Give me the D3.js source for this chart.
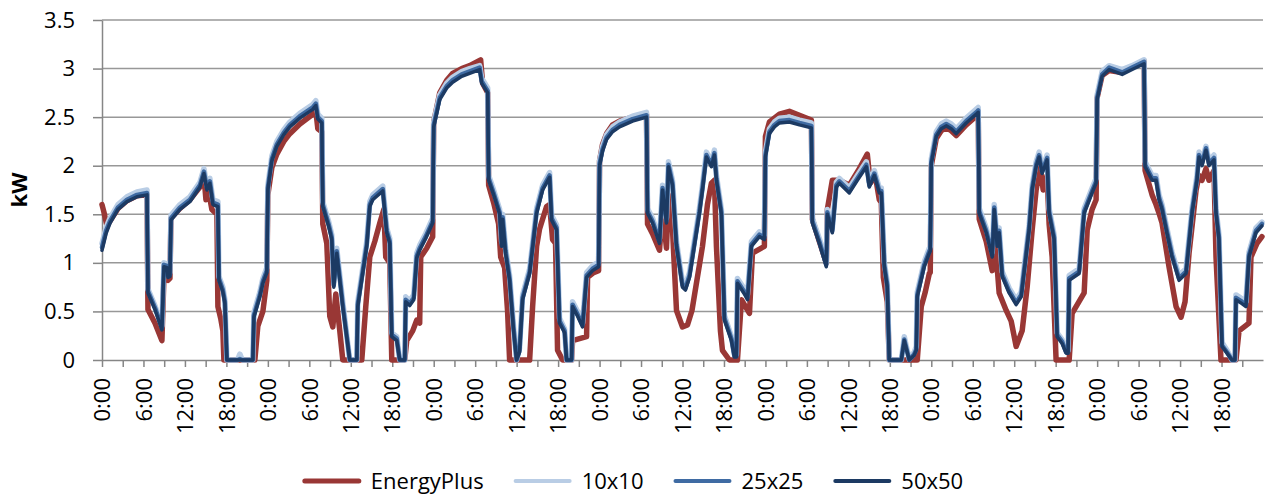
<!DOCTYPE html>
<html>
<head>
<meta charset="utf-8">
<script src="https://cdn.jsdelivr.net/npm/d3@7"></script>
<style>
  body { margin: 0; background: #fff; }
  text { font-family: "Open Sans", sans-serif; fill: #000; }
</style>
</head>
<body>
<div id="chart"></div>
<script>
// hours since start of week, kW
var simHours = [
  0, 0.58, 1.16, 2.31, 3.61, 5.06, 6.51, 6.65, 7.66, 8.67, 8.96, 9.40, 9.54, 9.83, 9.98, 11.28, 12.72, 14.17, 14.75, 15.18, 15.61, 16.05, 16.77, 16.92, 17.49, 17.78, 18.07, 19.6, 19.95, 20.3, 21.83, 21.98, 22.84, 23.28, 23.85,
  24.00, 24.58, 25.30, 26.31, 27.18, 28.63, 30.50, 30.94, 31.23, 31.81, 31.95, 32.24, 32.82, 33.25, 33.54, 33.97, 34.84, 35.85, 36.87, 37.01, 38.31, 38.75, 39.18, 40.63, 41.20, 41.64, 41.93, 42.65, 43.08, 43.81, 43.95, 44.53, 45.11, 45.54, 45.97, 46.84, 47.85,
  48.00, 48.87, 49.88, 50.74, 52.05, 53.20, 54.65, 54.94, 55.81, 55.95, 56.67, 57.54, 57.83, 57.97, 58.40, 58.98, 59.56, 59.99, 60.42, 60.86, 61.88, 62.89, 63.76, 64.77, 65.06, 65.78, 66.21, 66.94, 67.23, 67.95, 68.09, 68.82, 69.54, 70.12, 70.99, 71.86,
  72.00, 72.43, 73.01, 73.88, 74.89, 76.77, 78.79, 78.94, 79.66, 80.67, 81.11, 81.68, 81.97, 82.55, 83.13, 84.00, 84.43, 85.01, 86.45, 86.89, 87.46, 88.18, 88.62, 88.91, 89.63, 90.07, 91.08, 91.51, 91.80, 91.95, 92.96, 93.40, 93.97, 95.13, 95.85,
  96.00, 96.58, 97.30, 98.03, 99.47, 100.92, 102.65, 102.79, 103.80, 104.81, 104.96, 105.68, 106.26, 106.70, 108.14, 109.30, 110.60, 111.03, 111.76, 112.48, 112.77, 113.20, 113.63, 113.92, 115.66, 116.09, 116.81, 117.53, 117.83, 117.97, 118.98, 119.71, 119.85,
  120.00, 120.72, 121.44, 122.16, 122.89, 123.61, 125.06, 126.65, 126.79, 126.94, 127.95, 128.82, 129.11, 129.54, 129.82, 130.26, 131.27, 132.28, 133.01, 134.16, 134.60, 135.17, 135.61, 136.04, 136.76, 137.05, 137.78, 138.21, 138.93, 139.51, 139.80, 139.95, 141.39, 142.12, 143.27, 143.85,
  144.00, 144.72, 145.74, 147.62, 149.06, 150.79, 150.94, 151.95, 152.52, 152.96, 153.39, 154.11, 154.84, 155.85, 156.86, 157.73, 158.45, 158.74, 159.17, 159.75, 160.18, 160.91, 161.20, 161.63, 162.07, 162.79, 163.51, 163.94, 164.09, 164.95, 165.53, 165.97, 166.98, 167.85
];
var grid10 = [
  1.20, 1.36, 1.46, 1.60, 1.68, 1.73, 1.75, 0.73, 0.56, 0.35, 1.00, 0.99, 0.89, 0.90, 1.49, 1.60, 1.68, 1.83, 1.97, 1.80, 1.87, 1.65, 1.63, 0.86, 0.75, 0.62, 0, 0, 0.06, 0, 0, 0.49, 0.70, 0.84, 0.95,
  1.80, 2.10, 2.25, 2.37, 2.45, 2.54, 2.63, 2.67, 2.53, 2.49, 1.63, 1.56, 1.42, 1.29, 0.80, 1.15, 0.60, 0, 0, 0.60, 1.22, 1.63, 1.70, 1.79, 1.36, 1.25, 0.28, 0.24, 0, 0, 0.65, 0.61, 0.67, 1.10, 1.18, 1.30, 1.46,
  2.45, 2.73, 2.85, 2.91, 2.97, 3.00, 3.03, 2.90, 2.80, 1.90, 1.75, 1.55, 1.22, 1.50, 1.15, 0.87, 0.34, 0, 0.12, 0.67, 0.94, 1.56, 1.80, 1.93, 1.49, 1.39, 0.43, 0.32, 0, 0, 0.60, 0.50, 0.38, 0.90, 0.97, 1.01,
  2.05, 2.20, 2.32, 2.40, 2.45, 2.51, 2.55, 1.56, 1.46, 1.25, 1.80, 1.46, 2.04, 1.85, 1.22, 0.80, 0.77, 0.90, 1.56, 1.80, 2.14, 2.04, 2.16, 1.90, 1.55, 0.46, 0.24, 0.06, 0.06, 0.84, 0.73, 0.67, 1.22, 1.32, 1.29,
  2.14, 2.38, 2.45, 2.49, 2.50, 2.47, 2.44, 1.46, 1.25, 1.01, 1.55, 1.36, 1.83, 1.87, 1.77, 1.90, 2.04, 1.83, 1.95, 1.77, 1.77, 1.01, 0.80, 0, 0, 0.24, 0.01, 0.08, 0.14, 0.70, 1.01, 1.15, 1.17,
  2.07, 2.35, 2.43, 2.46, 2.43, 2.38, 2.49, 2.59, 2.60, 1.56, 1.36, 1.11, 1.60, 1.22, 1.36, 0.91, 0.74, 0.62, 0.70, 1.39, 1.80, 2.04, 2.14, 1.97, 2.11, 1.56, 1.29, 0.28, 0.21, 0.10, 0.10, 0.87, 0.94, 1.56, 1.77, 1.87,
  2.73, 2.97, 3.03, 2.99, 3.03, 3.09, 2.04, 1.90, 1.90, 1.70, 1.60, 1.35, 1.11, 0.87, 0.94, 1.56, 1.90, 2.14, 2.05, 2.20, 2.05, 2.11, 1.56, 1.29, 0.18, 0.10, 0, 0, 0.67, 0.63, 0.60, 1.11, 1.36, 1.42
];
var grid25 = [
  1.16, 1.33, 1.43, 1.57, 1.65, 1.70, 1.72, 0.71, 0.54, 0.33, 0.98, 0.97, 0.87, 0.88, 1.46, 1.57, 1.65, 1.80, 1.94, 1.77, 1.84, 1.62, 1.60, 0.84, 0.72, 0.60, 0, 0, 0.01, 0, 0, 0.46, 0.67, 0.81, 0.92,
  1.77, 2.07, 2.22, 2.34, 2.42, 2.51, 2.60, 2.64, 2.50, 2.46, 1.60, 1.53, 1.39, 1.26, 0.77, 1.12, 0.57, 0, 0, 0.57, 1.19, 1.60, 1.67, 1.76, 1.33, 1.22, 0.26, 0.22, 0, 0, 0.62, 0.58, 0.64, 1.07, 1.15, 1.27, 1.43,
  2.42, 2.70, 2.82, 2.88, 2.94, 2.97, 3.01, 2.87, 2.77, 1.87, 1.72, 1.52, 1.19, 1.47, 1.12, 0.84, 0.32, 0, 0.10, 0.64, 0.91, 1.53, 1.77, 1.90, 1.46, 1.36, 0.40, 0.30, 0, 0, 0.57, 0.47, 0.36, 0.87, 0.94, 0.98,
  2.02, 2.17, 2.29, 2.37, 2.42, 2.48, 2.52, 1.53, 1.43, 1.22, 1.77, 1.43, 2.01, 1.82, 1.19, 0.77, 0.74, 0.87, 1.53, 1.77, 2.11, 2.01, 2.13, 1.87, 1.52, 0.43, 0.22, 0.04, 0.04, 0.81, 0.70, 0.64, 1.19, 1.29, 1.26,
  2.11, 2.35, 2.42, 2.46, 2.47, 2.44, 2.41, 1.43, 1.22, 0.98, 1.52, 1.33, 1.80, 1.84, 1.74, 1.87, 2.01, 1.80, 1.92, 1.74, 1.74, 0.98, 0.77, 0, 0, 0.21, 0, 0.06, 0.11, 0.67, 0.98, 1.12, 1.14,
  2.04, 2.32, 2.40, 2.43, 2.40, 2.35, 2.46, 2.56, 2.57, 1.53, 1.33, 1.08, 1.57, 1.19, 1.33, 0.88, 0.71, 0.59, 0.67, 1.36, 1.77, 2.01, 2.11, 1.94, 2.08, 1.53, 1.26, 0.26, 0.19, 0.08, 0.08, 0.84, 0.91, 1.53, 1.74, 1.84,
  2.70, 2.94, 3.01, 2.96, 3.01, 3.07, 2.01, 1.87, 1.87, 1.67, 1.57, 1.32, 1.08, 0.84, 0.91, 1.53, 1.87, 2.11, 2.02, 2.18, 2.02, 2.08, 1.53, 1.26, 0.15, 0.08, 0, 0, 0.64, 0.60, 0.57, 1.08, 1.33, 1.40
];
var grid50 = [
  1.13, 1.30, 1.41, 1.55, 1.63, 1.68, 1.70, 0.69, 0.52, 0.31, 0.96, 0.95, 0.85, 0.86, 1.44, 1.55, 1.63, 1.78, 1.92, 1.75, 1.82, 1.60, 1.58, 0.82, 0.70, 0.58, 0, 0, 0, 0, 0, 0.44, 0.65, 0.79, 0.90,
  1.75, 2.05, 2.20, 2.32, 2.40, 2.49, 2.58, 2.62, 2.48, 2.44, 1.58, 1.51, 1.37, 1.24, 0.75, 1.10, 0.55, 0, 0, 0.55, 1.17, 1.58, 1.65, 1.74, 1.31, 1.20, 0.24, 0.20, 0, 0, 0.60, 0.56, 0.62, 1.05, 1.13, 1.25, 1.41,
  2.40, 2.68, 2.80, 2.86, 2.92, 2.95, 2.99, 2.85, 2.75, 1.85, 1.70, 1.50, 1.17, 1.45, 1.10, 0.82, 0.30, 0, 0.08, 0.62, 0.89, 1.51, 1.75, 1.88, 1.44, 1.34, 0.38, 0.28, 0, 0, 0.55, 0.45, 0.34, 0.85, 0.92, 0.96,
  2.00, 2.15, 2.27, 2.35, 2.40, 2.46, 2.50, 1.51, 1.41, 1.20, 1.75, 1.41, 1.99, 1.80, 1.17, 0.75, 0.72, 0.85, 1.51, 1.75, 2.09, 1.99, 2.11, 1.85, 1.50, 0.41, 0.20, 0.03, 0.03, 0.79, 0.68, 0.62, 1.17, 1.27, 1.24,
  2.09, 2.33, 2.40, 2.44, 2.45, 2.42, 2.39, 1.41, 1.20, 0.96, 1.50, 1.31, 1.78, 1.82, 1.72, 1.85, 1.99, 1.78, 1.90, 1.72, 1.72, 0.96, 0.75, 0, 0, 0.20, 0, 0.05, 0.10, 0.65, 0.96, 1.10, 1.12,
  2.02, 2.30, 2.38, 2.41, 2.38, 2.33, 2.44, 2.54, 2.55, 1.51, 1.31, 1.06, 1.55, 1.17, 1.31, 0.86, 0.69, 0.57, 0.65, 1.34, 1.75, 1.99, 2.09, 1.92, 2.06, 1.51, 1.24, 0.24, 0.17, 0.07, 0.07, 0.82, 0.89, 1.51, 1.72, 1.82,
  2.68, 2.92, 2.99, 2.94, 2.99, 3.05, 1.99, 1.85, 1.85, 1.65, 1.55, 1.30, 1.06, 0.82, 0.89, 1.51, 1.85, 2.09, 2.00, 2.16, 2.00, 2.06, 1.51, 1.24, 0.14, 0.07, 0, 0, 0.62, 0.58, 0.55, 1.06, 1.31, 1.38
];

var epHours = [
  0, 0.29, 0.72, 1.16, 2.31, 3.61, 5.06, 6.51, 6.65, 7.66, 8.67, 8.96, 9.54, 9.83, 9.98, 11.28, 12.72, 14.17, 14.75, 15.04, 15.47, 15.90, 16.63, 16.77, 17.20, 17.49, 17.64, 22.12, 22.55, 23.28, 23.85,
  24.00, 24.58, 25.30, 26.31, 27.18, 28.63, 30.50, 30.94, 31.23, 31.81, 31.95, 32.53, 32.96, 33.40, 33.83, 34.41, 34.84, 37.59, 38.17, 38.75, 39.47, 40.20, 40.78, 41.06, 41.64, 41.93, 43.81, 44.10, 44.96, 45.54, 45.97, 46.12, 46.98, 47.85,
  48.00, 48.87, 49.88, 50.74, 52.05, 53.20, 54.79, 55.08, 55.81, 55.95, 56.67, 57.39, 57.69, 58.26, 58.69, 58.98, 61.88, 62.31, 62.89, 63.32, 64.33, 64.77, 65.20, 65.63, 65.92, 66.65, 67.95, 68.09, 69.10, 70.12, 70.26, 71.13, 71.86,
  72.00, 72.43, 73.01, 73.88, 74.89, 76.77, 78.79, 78.94, 79.66, 80.67, 81.11, 81.68, 81.97, 82.55, 83.13, 84.00, 84.72, 85.37, 86.89, 87.61, 88.18, 88.62, 88.91, 89.49, 89.78, 90.79, 91.95, 92.53, 93.69, 94.12, 95.85,
  96.00, 96.58, 98.03, 99.47, 100.92, 102.65, 102.79, 103.80, 104.81, 104.96, 105.68, 106.70, 108.14, 109.59, 110.74, 111.17, 111.90, 112.48, 112.77, 113.06, 113.63, 113.92, 117.97, 118.55, 119.13, 119.71, 119.85,
  120.00, 120.72, 121.44, 122.16, 122.89, 123.61, 125.06, 126.65, 126.79, 126.94, 127.95, 128.82, 129.11, 129.54, 129.82, 130.84, 131.56, 132.28, 133.15, 133.87, 134.60, 135.17, 135.75, 136.19, 136.76, 137.05, 137.49, 138.06, 139.95, 140.38, 142.12, 142.56, 143.27, 143.85,
  144.00, 144.72, 145.74, 147.62, 149.06, 150.79, 150.94, 151.95, 152.52, 152.96, 153.39, 154.40, 155.42, 156.14, 156.72, 157.30, 158.32, 158.74, 159.17, 159.75, 160.18, 160.91, 161.20, 161.92, 164.09, 164.53, 165.97, 166.26, 167.13, 167.85
];
var energyPlus = [
  1.60, 1.52, 1.38, 1.43, 1.56, 1.64, 1.69, 1.70, 0.52, 0.38, 0.20, 0.85, 0.82, 0.84, 1.46, 1.56, 1.65, 1.78, 1.90, 1.65, 1.72, 1.55, 1.50, 0.55, 0.42, 0.30, 0, 0, 0.35, 0.50, 0.82,
  1.70, 1.98, 2.12, 2.25, 2.33, 2.43, 2.53, 2.57, 2.38, 2.35, 1.40, 1.20, 0.45, 0.34, 0.68, 0.30, 0, 0, 0.55, 1.06, 1.22, 1.41, 1.55, 1.06, 1.00, 0, 0, 0.20, 0.30, 0.41, 0.38, 1.06, 1.15, 1.27,
  2.45, 2.75, 2.88, 2.95, 3.00, 3.03, 3.09, 2.85, 2.75, 1.80, 1.62, 1.40, 1.06, 0.95, 0.50, 0, 0, 0.55, 1.17, 1.35, 1.58, 1.60, 1.24, 1.20, 0.10, 0, 0, 0.20, 0.22, 0.24, 0.85, 0.90, 0.92,
  2.05, 2.22, 2.33, 2.42, 2.46, 2.50, 2.53, 1.40, 1.30, 1.13, 1.55, 1.15, 1.70, 1.35, 0.51, 0.34, 0.36, 0.51, 1.17, 1.60, 1.82, 1.85, 1.17, 0.30, 0.10, 0, 0, 0.62, 0.48, 1.10, 1.17,
  2.30, 2.45, 2.53, 2.56, 2.52, 2.47, 1.45, 1.22, 1.00, 1.55, 1.85, 1.85, 1.80, 1.97, 2.12, 1.82, 1.90, 1.65, 1.62, 0.85, 0.60, 0, 0, 0.55, 0.70, 0.89, 0.90,
  2.00, 2.28, 2.36, 2.39, 2.36, 2.31, 2.42, 2.52, 2.53, 1.45, 1.22, 0.92, 1.40, 0.95, 0.69, 0.51, 0.40, 0.14, 0.30, 0.75, 1.34, 1.75, 1.99, 1.75, 1.90, 1.40, 1.06, 0, 0, 0.48, 0.69, 1.34, 1.55, 1.65,
  2.70, 2.93, 2.98, 2.96, 3.01, 3.08, 1.95, 1.70, 1.60, 1.51, 1.41, 0.96, 0.55, 0.44, 0.60, 1.10, 1.75, 1.90, 1.85, 1.97, 1.85, 1.95, 1.06, 0, 0, 0.30, 0.38, 1.06, 1.20, 1.27
];

var seriesNames = ["EnergyPlus", "10x10", "25x25", "50x50"];
var seriesColors = ["#993735", "#b9cde5", "#3f6ba3", "#1c3a63"];
var seriesWidths = [5.5, 5.5, 4.5, 3.5];
var yTicks = [0, 0.5, 1, 1.5, 2, 2.5, 3, 3.5];
var dayLabels = ["0:00", "6:00", "12:00", "18:00"];

var width = 1266, height = 495;
var margin = {top: 20, right: 3, bottom: 135, left: 102};
var w = width - margin.left - margin.right;
var h = height - margin.top - margin.bottom;

var svg = d3.select("#chart").append("svg")
  .attr("width", width)
  .attr("height", height);

var g = svg.append("g")
  .attr("transform", "translate(" + margin.left + "," + margin.top + ")");

var x = d3.scaleLinear().domain([0, 168]).range([0, w]);
var y = d3.scaleLinear().domain([0, 3.5]).range([h, 0]);

// gridlines
g.selectAll(".grid")
  .data(yTicks.filter(function(d) { return d > 0; }))
  .enter().append("line")
  .attr("x1", 0).attr("x2", w)
  .attr("y1", function(d) { return y(d); })
  .attr("y2", function(d) { return y(d); })
  .attr("stroke", "#989898")
  .attr("stroke-width", 1.5);

// y axis
var yAxis = g.append("g")
  .call(d3.axisLeft(y).tickValues(yTicks).tickSize(9).tickSizeOuter(0).tickPadding(18)
    .tickFormat(function(d) { return String(d); }));
yAxis.selectAll("text").style("font-size", "22px").style("font-family", "'Open Sans', sans-serif").attr("fill", "#000");
yAxis.selectAll("line").attr("stroke", "#868686").attr("stroke-width", 1.5);
yAxis.select(".domain").attr("stroke", "#868686").attr("stroke-width", 1.5);

// x axis, tick every 3 hours, label every 6
var xAxis = g.append("g")
  .attr("transform", "translate(0," + h + ")")
  .call(d3.axisBottom(x).tickValues(d3.range(0, 168, 3)).tickSize(7).tickSizeOuter(0)
    .tickFormat(function(d) { return d % 6 === 0 ? dayLabels[(d % 24) / 6] : ""; }));
xAxis.selectAll("line").attr("stroke", "#868686").attr("stroke-width", 1.5);
xAxis.select(".domain").attr("stroke", "#868686").attr("stroke-width", 1.5);
xAxis.selectAll("text")
  .style("font-size", "22px").style("font-family", "'Open Sans', sans-serif").attr("fill", "#000")
  .attr("transform", "rotate(-90)")
  .attr("x", -18).attr("y", 0).attr("dy", "0.35em")
  .style("text-anchor", "end");

// y title
svg.append("text")
  .attr("transform", "translate(27,190) rotate(-90)")
  .attr("text-anchor", "middle")
  .style("font-size", "22px").style("font-weight", "bold")
  .text("kW");

// lines
var line = d3.line()
  .x(function(d) { return x(d[0]); })
  .y(function(d) { return y(d[1]); });

var seriesData = [
  d3.zip(epHours, energyPlus),
  d3.zip(simHours, grid10),
  d3.zip(simHours, grid25),
  d3.zip(simHours, grid50)
];

g.selectAll(".series")
  .data(seriesData)
  .enter().append("path")
  .attr("fill", "none")
  .attr("stroke", function(d, i) { return seriesColors[i]; })
  .attr("stroke-width", function(d, i) { return seriesWidths[i]; })
  .attr("stroke-linejoin", "round")
  .attr("stroke-linecap", "round")
  .attr("d", line);

// legend
var legend = svg.append("g").attr("transform", "translate(0,481)");
var lx = 0;
var items = legend.selectAll(".item").data(seriesNames).enter().append("g");
items.each(function(name, i) {
  var it = d3.select(this);
  it.append("line")
    .attr("x1", 0).attr("x2", 54).attr("y1", 0).attr("y2", 0)
    .attr("stroke", seriesColors[i])
    .attr("stroke-width", i === 0 ? 5 : 4)
    .attr("stroke-linecap", "round");
  var t = it.append("text")
    .attr("x", 66).attr("dy", "0.35em")
    .style("font-size", "22px")
    .text(name);
  it.attr("transform", "translate(" + lx + ",0)");
  lx += 66 + t.node().getComputedTextLength() + 32;
});
var legendWidth = lx - 32;
legend.attr("transform", "translate(" + (634 - legendWidth / 2) + ",481)");
</script>
</body>
</html>
